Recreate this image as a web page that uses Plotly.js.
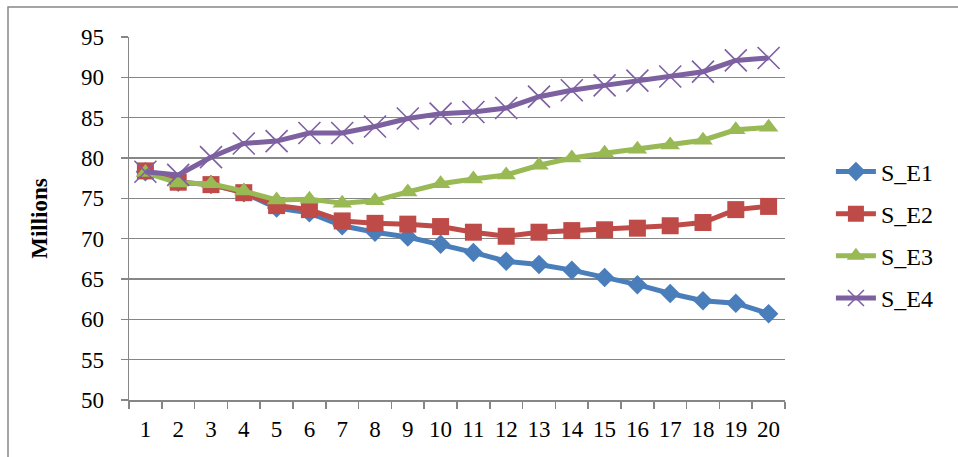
<!DOCTYPE html>
<html>
<head>
<meta charset="utf-8">
<script src="https://cdn.plot.ly/plotly-3.0.1.min.js"></script>
<style>
html,body{margin:0;padding:0;background:#fff;}
#chart{width:958px;height:457px;}
</style>
</head>
<body>
<div id="chart"></div>
<script>
const categories = ["1","2","3","4","5","6","7","8","9","10","11","12","13","14","15","16","17","18","19","20"];
const S_E1 = [78.3, 77.0, 76.7, 75.7, 73.8, 73.2, 71.6, 70.8, 70.2, 69.3, 68.3, 67.2, 66.8, 66.1, 65.2, 64.3, 63.2, 62.3, 62.0, 60.7];
const S_E2 = [78.4, 77.0, 76.7, 75.7, 74.1, 73.6, 72.2, 71.9, 71.8, 71.5, 70.8, 70.3, 70.8, 71.0, 71.1, 71.3, 71.6, 72.0, 73.6, 74.0];
const S_E3 = [78.2, 76.9, 76.8, 75.9, 74.8, 74.9, 74.4, 74.7, 75.8, 76.8, 77.4, 77.9, 79.1, 80.0, 80.6, 81.1, 81.6, 82.2, 83.5, 83.8];
const S_E4 = [78.3, 77.9, 80.1, 81.8, 82.1, 83.1, 83.1, 83.9, 84.9, 85.5, 85.7, 86.2, 87.6, 88.4, 89.0, 89.6, 90.1, 90.7, 92.1, 92.4];
const yTicks = [50, 55, 60, 65, 70, 75, 80, 85, 90, 95];

const series = [
  {name: "S_E1", y: S_E1, color: "#4A7EBB", symbol: "diamond", size: 15, mlw: 0},
  {name: "S_E2", y: S_E2, color: "#BE4B48", symbol: "square", size: 17, mlw: 0},
  {name: "S_E3", y: S_E3, color: "#98B954", symbol: "triangle-up", size: 17, mlw: 0},
  {name: "S_E4", y: S_E4, color: "#7D60A0", symbol: "x-thin", size: 22, mlw: 1.6}
];

const traces = series.map((s, i) => ({
  type: "scatter",
  mode: "lines+markers",
  name: s.name,
  x: categories,
  y: s.y,
  legendgroup: "g" + i,
  line: {color: s.color, width: 5},
  marker: {symbol: s.symbol, size: s.size, color: s.color,
           line: {color: s.color, width: s.mlw}}
}));

const layout = {
  width: 958, height: 457,
  margin: {l: 129, r: 173, t: 37, b: 57},
  paper_bgcolor: "#ffffff",
  plot_bgcolor: "#ffffff",
  font: {family: "Liberation Serif, Times New Roman, serif", color: "#000000", size: 23},
  showlegend: true,
  legend: {
    x: 1.07, xanchor: "left", y: 0.455, yanchor: "middle",
    font: {size: 24, family: "Liberation Serif, serif", color: "#000"},
    traceorder: "grouped", tracegroupgap: 8,
    bgcolor: "rgba(0,0,0,0)", itemwidth: 40, itemsizing: "trace"
  },
  xaxis: {
    type: "category",
    tickson: "boundaries",
    tickangle: 0,
    ticks: "outside", ticklen: 7, tickwidth: 1.5, tickcolor: "#868686",
    showline: true, linecolor: "#868686", linewidth: 1.5,
    showgrid: false, zeroline: false,
    tickfont: {size: 23},
    ticklabelstandoff: 8,
    range: [-0.5, 19.5],
    fixedrange: true
  },
  yaxis: {
    range: [50, 95],
    tickvals: yTicks,
    ticktext: yTicks.map(String),
    ticks: "outside", ticklen: 7, tickwidth: 1.5, tickcolor: "#868686",
    showline: true, linecolor: "#868686", linewidth: 1.5,
    showgrid: true, gridcolor: "#868686", gridwidth: 1.5,
    zeroline: false,
    tickfont: {size: 23},
    ticklabelstandoff: 12,
    title: {text: "<b>Millions</b>", font: {size: 23}, standoff: 27},
    fixedrange: true
  },
  shapes: [{
    type: "rect", xref: "paper", yref: "paper",
    x0: (8 - 129) / 656, x1: 1.4, y0: -0.3, y1: (400 - 7) / 363,
    line: {color: "#868686", width: 1.5}, fillcolor: "rgba(0,0,0,0)", layer: "below"
  }]
};

Plotly.newPlot("chart", traces, layout, {displayModeBar: false, staticPlot: true});
</script>
</body>
</html>
